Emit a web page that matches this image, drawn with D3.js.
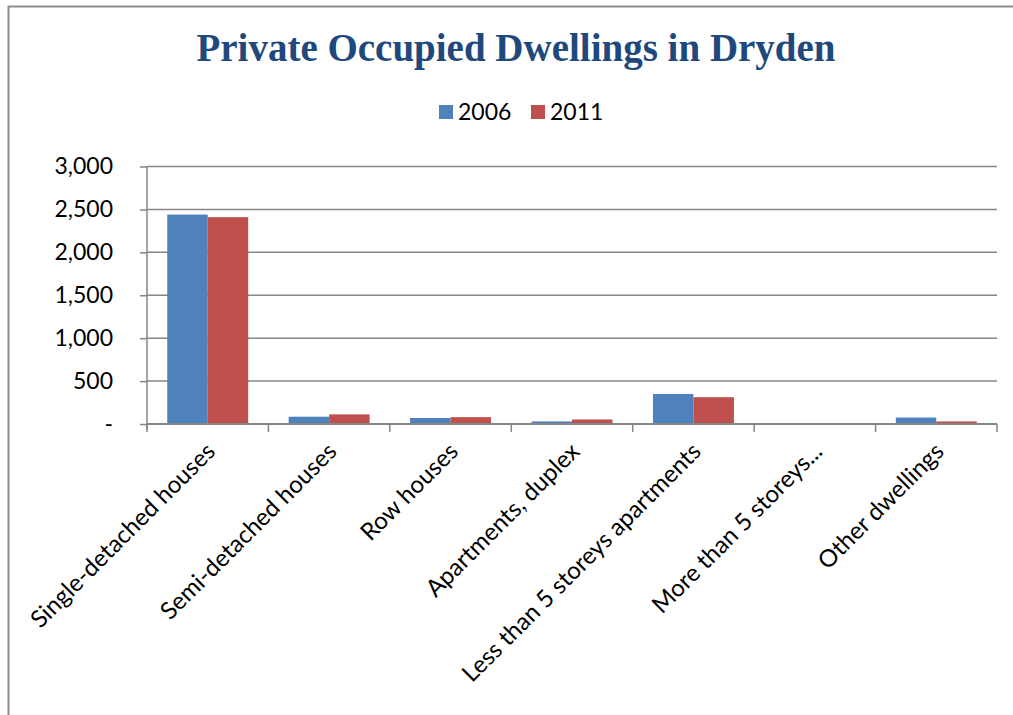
<!DOCTYPE html>
<html>
<head>
<meta charset="utf-8">
<script src="https://cdn.jsdelivr.net/npm/d3@7"></script>
<style>
  body { margin: 0; background: #fff; }
  svg { display: block; }
</style>
</head>
<body>
<div id="chart"></div>
<script>
  var categories = ["Single-detached houses", "Semi-detached houses", "Row houses",
    "Apartments, duplex", "Less than 5 storeys apartments", "More than 5 storeys...", "Other dwellings"];
  var seriesNames = ["2006", "2011"];
  var values2006 = [2440, 85, 70, 30, 350, 0, 75];
  var values2011 = [2410, 112, 80, 53, 312, 0, 30];
  var yTicks = [0, 500, 1000, 1500, 2000, 2500, 3000];
  var colors = ["#4F81BD", "#C0504D"];

  var width = 1013, height = 715;
  var plotLeft = 147, plotRight = 997, plotTop = 166.5, plotBottom = 424;

  var svg = d3.select('#chart').append('svg')
    .attr('width', width)
    .attr('height', height);

  // chart border
  svg.append('path')
    .attr('d', 'M8.5,' + height + 'V6.5H' + width)
    .attr('fill', 'none')
    .attr('stroke', '#8c8c8c')
    .attr('stroke-width', 2);

  svg.append('text')
    .attr('x', 516)
    .attr('y', 61)
    .attr('text-anchor', 'middle')
    .style('font-family', '"Liberation Serif", serif')
    .style('font-weight', 'bold')
    .style('font-size', '39px')
    .style('fill', '#1F497D')
    .text('Private Occupied Dwellings in Dryden');

  var x0 = d3.scaleBand().domain(categories).range([plotLeft, plotRight]);
  var x1 = d3.scaleBand().domain(seriesNames).range([0, x0.bandwidth() * 2 / 3]);
  var y = d3.scaleLinear().domain([0, 3000]).range([plotBottom, plotTop]);

  // gridlines
  svg.append('g')
    .selectAll('line')
    .data(yTicks.slice(1))
    .enter()
    .append('line')
    .attr('x1', plotLeft)
    .attr('x2', plotRight)
    .attr('y1', function (d) { return y(d); })
    .attr('y2', function (d) { return y(d); })
    .style('stroke', '#868686')
    .style('stroke-width', 1.5);

  var yAxis = svg.append('g')
    .attr('transform', 'translate(' + plotLeft + ',0)')
    .call(d3.axisLeft(y).tickValues(yTicks).tickSize(7).tickPadding(27)
      .tickFormat(function (d) { return d === 0 ? '-' : d3.format(',')(d); }));
  yAxis.select('.domain').attr('d', 'M0,' + plotTop + 'V' + (plotBottom + 6));
  yAxis.selectAll('path, line').style('stroke', '#868686').style('stroke-width', 1.5);
  yAxis.selectAll('text')
    .style('font-family', 'Lato, sans-serif')
    .style('font-size', '23px')
    .style('fill', '#000');

  var groups = svg.append('g')
    .selectAll('g')
    .data(categories)
    .enter()
    .append('g')
    .attr('transform', function (d) { return 'translate(' + (x0(d) + x0.bandwidth() / 6) + ',0)'; });

  groups.selectAll('rect')
    .data(function (d, i) { return [values2006[i], values2011[i]]; })
    .enter()
    .append('rect')
    .attr('x', function (d, j) { return x1(seriesNames[j]); })
    .attr('width', x1.bandwidth())
    .attr('y', function (d) { return y(d); })
    .attr('height', function (d) { return plotBottom - y(d); })
    .style('fill', function (d, j) { return colors[j]; });

  var xAxis = svg.append('g')
    .attr('transform', 'translate(0,' + plotBottom + ')');
  xAxis.append('line')
    .attr('x1', plotLeft)
    .attr('x2', plotRight)
    .style('stroke', '#868686')
    .style('stroke-width', 2);
  xAxis.selectAll('.tick')
    .data(d3.range(categories.length + 1))
    .enter()
    .append('line')
    .attr('x1', function (d) { return plotLeft + d * x0.step(); })
    .attr('x2', function (d) { return plotLeft + d * x0.step(); })
    .attr('y1', 0)
    .attr('y2', 8)
    .style('stroke', '#868686')
    .style('stroke-width', 1.5);
  xAxis.selectAll('text')
    .data(categories)
    .enter()
    .append('text')
    .attr('text-anchor', 'end')
    .attr('transform', function (d) {
      return 'translate(' + (x0(d) + x0.bandwidth() / 2 + 9) + ',29) rotate(-45)';
    })
    .style('font-family', 'Lato, sans-serif')
    .style('font-size', '24px')
    .style('fill', '#000')
    .text(function (d) { return d; });

  // legend
  var legend = svg.append('g')
    .selectAll('g')
    .data(seriesNames)
    .enter()
    .append('g')
    .attr('transform', function (d, i) { return 'translate(' + (439 + i * 92) + ',105)'; });
  legend.append('rect')
    .attr('width', 14)
    .attr('height', 14)
    .style('fill', function (d, i) { return colors[i]; });
  legend.append('text')
    .attr('x', 19)
    .attr('y', 15)
    .style('font-family', 'Lato, sans-serif')
    .style('font-size', '23px')
    .style('fill', '#000')
    .text(function (d) { return d; });
</script>
</body>
</html>
